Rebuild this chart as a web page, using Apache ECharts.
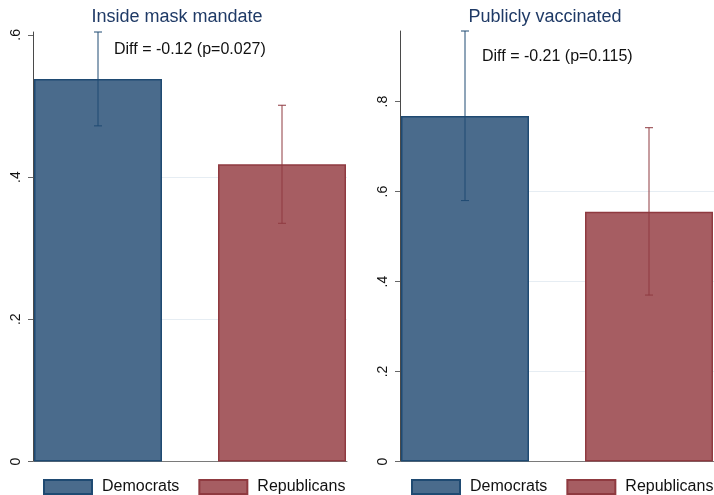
<!DOCTYPE html>
<html>
<head>
<meta charset="utf-8">
<script src="https://cdn.jsdelivr.net/npm/echarts@6/dist/echarts.min.js"></script>
<style>
  html, body { margin: 0; padding: 0; background: #fff; }
  #chart { width: 714px; height: 495px; }
</style>
</head>
<body>
<div id="chart"></div>
<script>
// Share of respondents by party, with 95% confidence intervals
const panels = ['Inside mask mandate', 'Publicly vaccinated'];
const parties = ['Democrats', 'Republicans'];
const demMean = [0.538, 0.768];
const demLow = [0.472, 0.580];
const demHigh = [0.604, 0.957];
const repMean = [0.418, 0.555];
const repLow = [0.335, 0.370];
const repHigh = [0.501, 0.742];
const diffLabels = ['Diff = -0.12 (p=0.027)', 'Diff = -0.21 (p=0.115)'];
const tickValues = [[0, 0.2, 0.4, 0.6], [0, 0.2, 0.4, 0.6, 0.8]];
const tickLabels = { 0: '0', 0.2: '.2', 0.4: '.4', 0.6: '.6', 0.8: '.8' };

const FONT = '"Liberation Sans", Arial, sans-serif';
const DEM_FILL = '#4a6b8c', DEM_EDGE = '#1f4a72';
const REP_FILL = '#a65d62', REP_EDGE = '#8f3a40';
const BAR_W = 128, BAR_GAP = 56;

const grids = [
  { left: 33, width: 314, top: 32, bottom: 33.5 },
  { left: 400, width: 314, top: 31, bottom: 33.5 }
];
// panel headings are centred over the whole panel, axis labels included
const titleCenters = [177, 545];

const option = {
  backgroundColor: '#fff',
  animation: false,
  textStyle: { fontFamily: FONT },
  grid: grids,
  title: [],
  legend: [],
  xAxis: [],
  yAxis: [],
  series: []
};

panels.forEach((name, p) => {
  option.title.push({
    text: name, left: titleCenters[p], top: 8, textAlign: 'center', padding: 0,
    textStyle: { fontFamily: FONT, fontSize: 18, fontWeight: 'normal', color: '#1f3a66' }
  });
  option.title.push({
    text: diffLabels[p], left: p === 0 ? 114 : 482, top: p === 0 ? 42 : 49, padding: 0,
    textStyle: { fontFamily: FONT, fontSize: 16, fontWeight: 'normal', color: '#111' }
  });
  option.legend.push({
    data: parties, left: p === 0 ? 43 : 411, top: 479, orient: 'horizontal',
    icon: 'rect',
    itemWidth: 48, itemHeight: 14, itemGap: 19, padding: 0,
    selectedMode: false,
    textStyle: { fontFamily: FONT, fontSize: 16, color: '#111', padding: [0, 0, 0, 5] }
  });
  option.xAxis.push({
    type: 'category', gridIndex: p, data: [''],
    axisLine: { show: true, lineStyle: { color: '#7a7a7a', width: 1 } },
    axisTick: { show: false }, axisLabel: { show: false }, splitLine: { show: false }
  });
  const ticks = tickValues[p];
  option.yAxis.push({
    type: 'value', gridIndex: p, min: 0,
    max: Math.max(demHigh[p], repHigh[p]), interval: 0.2,
    axisLine: { show: true, lineStyle: { color: '#4a4a4a', width: 1 } },
    axisTick: { show: true, length: 5, lineStyle: { color: '#666' }, customValues: ticks },
    axisLabel: {
      rotate: 90, margin: 10, fontSize: 14, color: '#111', fontFamily: FONT,
      customValues: ticks,
      formatter: v => tickLabels[Math.round(v * 10) / 10] ?? ''
    },
    splitLine: { show: true, showMaxLine: false, showMinLine: false, lineStyle: { color: '#e6edf3', width: 1 } }
  });
  option.series.push({
    name: parties[0], type: 'bar', xAxisIndex: p, yAxisIndex: p,
    data: [demMean[p]], barWidth: BAR_W, barGap: (BAR_GAP / BAR_W * 100) + '%',
    itemStyle: { color: DEM_FILL, borderColor: DEM_EDGE, borderWidth: 1.5 }
  });
  option.series.push({
    name: parties[1], type: 'bar', xAxisIndex: p, yAxisIndex: p,
    data: [repMean[p]], barWidth: BAR_W, barGap: (BAR_GAP / BAR_W * 100) + '%',
    itemStyle: { color: REP_FILL, borderColor: REP_EDGE, borderWidth: 1.5 }
  });
  // confidence-interval whiskers, placed over each bar of the group
  option.series.push({
    type: 'custom', xAxisIndex: p, yAxisIndex: p, z: 5,
    data: [[0, demLow[p], demHigh[p], 0], [0, repLow[p], repHigh[p], 1]],
    encode: { x: 0, y: [1, 2] },
    renderItem: (params, api) => {
      const party = api.value(3);
      const shift = (party - 0.5) * (BAR_W + BAR_GAP);
      const lo = api.coord([api.value(0), api.value(1)]);
      const hi = api.coord([api.value(0), api.value(2)]);
      const x = lo[0] + shift;
      const cap = 4;
      const color = party === 0 ? DEM_EDGE : REP_EDGE;
      const style = { stroke: color, lineWidth: 1, fill: null };
      return {
        type: 'group',
        children: [
          { type: 'line', shape: { x1: x, y1: lo[1], x2: x, y2: hi[1] }, style },
          { type: 'line', shape: { x1: x - cap, y1: lo[1], x2: x + cap, y2: lo[1] }, style },
          { type: 'line', shape: { x1: x - cap, y1: hi[1], x2: x + cap, y2: hi[1] }, style }
        ]
      };
    }
  });
});

const chart = echarts.init(document.getElementById('chart'), null, { renderer: 'canvas' });
chart.setOption(option);
</script>
</body>
</html>
